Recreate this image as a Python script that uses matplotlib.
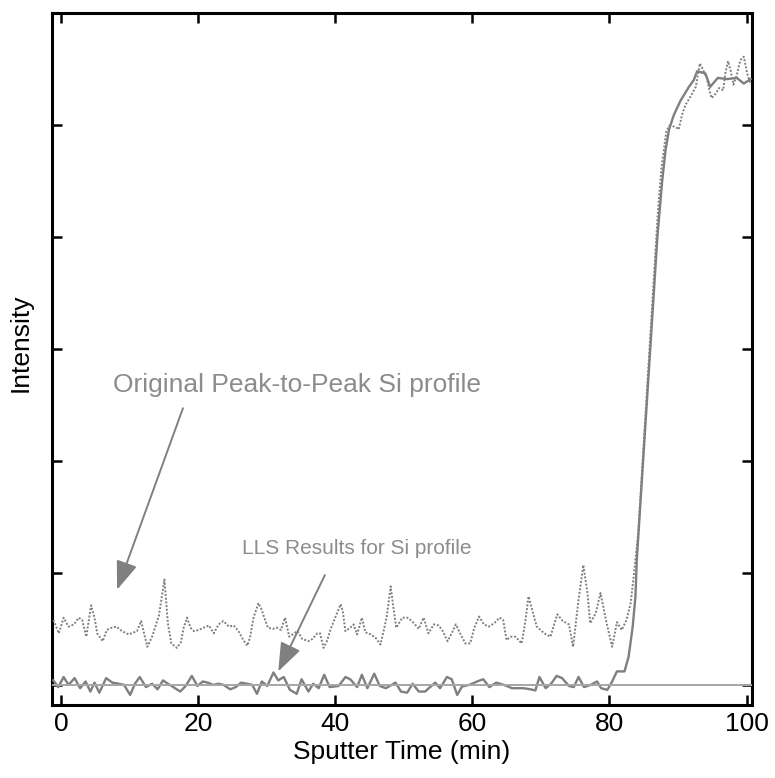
import numpy as np
import matplotlib
matplotlib.use("Agg")
import matplotlib.pyplot as plt

plt.rcParams['font.family'] = ['Liberation Sans', 'DejaVu Sans']

# Original peak-to-peak Si profile (dotted)
t_orig = [-1.1, -0.3, 0.4, 1.1, 1.9, 2.6, 3.1, 3.7, 4.4, 4.9, 5.3, 6.1, 6.7, 7.4, 8.1, 8.9,
          9.9, 11.1, 11.7, 12.6, 13.3, 14.3, 15.1, 15.6, 16.1, 16.9, 17.5, 17.9, 18.4, 18.9,
          19.4, 20.1, 20.8, 21.6, 22.3, 23.0, 23.7, 24.5, 25.2, 25.9, 26.6, 27.2, 27.6, 28.1,
          28.8, 29.3, 29.6, 30.2, 30.9, 31.5, 32.1, 32.7, 33.3, 34.5, 35.2, 36.1, 36.7, 37.4,
          37.8, 38.3, 38.8, 39.3, 40.0, 40.8, 41.1, 41.5, 42.2, 42.7, 43.2, 43.9, 44.4, 45.2,
          45.9, 46.6, 47.1, 47.5, 48.1, 48.5, 48.9, 49.8, 50.5, 51.2, 52.2, 52.9, 53.6, 54.4,
          55.1, 55.6, 56.4, 57.0, 57.6, 58.3, 59.0, 59.7, 60.3, 61.0, 61.7, 62.4, 63.2, 64.0,
          64.5, 65.0, 65.6, 66.3, 67.2, 67.7, 68.2, 68.6, 69.4, 70.5, 71.4, 72.4, 73.2, 74.1,
          74.7, 75.5, 76.2, 76.8, 77.2, 78.0, 78.7, 79.6, 80.4, 81.1, 81.8, 82.5, 83.1, 83.6,
          84.2, 84.8, 85.4, 86.0, 86.6, 87.1, 87.6, 88.3, 88.7, 89.2, 89.7, 90.1, 90.6, 91.1,
          91.8, 92.6, 93.2, 93.6, 94.2, 94.6, 94.9, 95.5, 96.0, 96.6, 96.9, 97.3, 97.7, 98.1,
          98.6, 99.1, 99.6, 100.1, 100.6]
si_orig = [0.58, 0.46, 0.60, 0.52, 0.54, 0.60, 0.58, 0.43, 0.71, 0.60, 0.46, 0.39, 0.49, 0.51, 0.52, 0.48,
           0.45, 0.48, 0.57, 0.34, 0.43, 0.62, 0.94, 0.55, 0.37, 0.33, 0.38, 0.51, 0.60, 0.51,
           0.48, 0.49, 0.51, 0.53, 0.46, 0.54, 0.57, 0.52, 0.53, 0.48, 0.40, 0.35, 0.43, 0.60,
           0.73, 0.67, 0.61, 0.51, 0.50, 0.51, 0.49, 0.60, 0.43, 0.48, 0.41, 0.39, 0.41, 0.46,
           0.46, 0.33, 0.39, 0.49, 0.60, 0.72, 0.66, 0.48, 0.51, 0.54, 0.45, 0.60, 0.47, 0.45,
           0.42, 0.36, 0.49, 0.60, 0.88, 0.69, 0.51, 0.60, 0.60, 0.57, 0.50, 0.60, 0.46, 0.54,
           0.53, 0.49, 0.39, 0.46, 0.54, 0.45, 0.37, 0.37, 0.51, 0.61, 0.54, 0.52, 0.55, 0.60,
           0.58, 0.40, 0.43, 0.43, 0.37, 0.55, 0.79, 0.70, 0.52, 0.46, 0.43, 0.63, 0.57, 0.54,
           0.34, 0.76, 1.07, 0.82, 0.55, 0.64, 0.82, 0.55, 0.34, 0.56, 0.49, 0.58, 0.73, 1.00,
           1.35, 1.95, 2.55, 3.15, 3.75, 4.25, 4.62, 4.94, 4.99, 4.99, 4.98, 4.96, 5.09, 5.18,
           5.25, 5.34, 5.55, 5.50, 5.42, 5.31, 5.24, 5.28, 5.33, 5.31, 5.46, 5.57, 5.48, 5.36,
           5.45, 5.58, 5.61, 5.46, 5.36]

# LLS result for the Si profile (solid)
t_lls = [-1.1, -0.4, 0.4, 1.1, 2.0, 2.8, 3.6, 4.3, 4.9, 5.6, 6.6, 7.5, 8.4, 9.2, 10.1, 10.8,
         11.5, 12.4, 13.3, 14.1, 14.9, 15.6, 16.4, 17.4, 18.2, 19.1, 19.9, 20.7, 21.4, 22.2,
         23.0, 23.7, 24.7, 25.5, 26.3, 27.1, 27.9, 28.6, 29.3, 30.1, 31.0, 31.7, 32.5, 33.4,
         34.4, 35.1, 36.1, 36.8, 37.6, 38.4, 39.2, 40.5, 41.5, 42.2, 43.2, 43.9, 44.7, 45.7,
         46.5, 47.4, 48.8, 49.6, 50.5, 51.3, 52.2, 53.1, 54.6, 55.3, 56.3, 57.0, 57.8, 58.5,
         59.6, 60.7, 61.6, 62.5, 63.5, 64.6, 65.8, 67.5, 68.5, 69.2, 69.8, 70.7, 71.5, 72.3,
         73.1, 74.1, 74.8, 75.5, 76.3, 77.3, 78.2, 78.8, 79.7, 80.4, 81.1, 82.2, 82.8, 83.4,
         83.8, 84.0, 85.0, 86.0, 87.0, 87.7, 88.2, 88.7, 89.4, 90.4, 91.6, 92.3, 92.8, 94.0,
         94.7, 95.8, 97.2, 98.6, 99.6, 100.6]
si_lls = [0.04, -0.02, 0.07, 0.00, 0.06, -0.03, 0.03, -0.06, 0.02, -0.07, 0.06, 0.02, 0.01, 0.00, -0.09, 0.01,
          0.07, -0.02, 0.01, -0.04, 0.04, 0.01, -0.02, -0.06, -0.01, 0.08, -0.01, 0.03, 0.02, 0.00,
          0.01, 0.00, -0.04, -0.02, 0.02, 0.01, 0.00, -0.08, 0.03, -0.01, 0.11, 0.04, 0.07, -0.045,
          -0.08, 0.05, -0.06, 0.01, -0.03, 0.09, -0.02, -0.01, 0.07, 0.05, -0.02, 0.09, -0.03, 0.10,
          -0.01, -0.03, 0.02, -0.06, -0.07, 0.01, -0.06, -0.06, 0.02, -0.03, 0.07, 0.05, -0.09, -0.015,
          0.00, 0.03, 0.05, -0.02, 0.02, 0.00, -0.03, -0.03, -0.04, -0.05, 0.07, -0.03, 0.01, 0.08,
          0.06, -0.01, -0.02, 0.07, -0.02, 0.00, 0.03, -0.03, -0.045, 0.03, 0.12, 0.12, 0.25, 0.52,
          0.79, 1.12, 2.08, 3.04, 4.00, 4.50, 4.78, 4.96, 5.09, 5.22, 5.34, 5.40, 5.48, 5.46,
          5.34, 5.42, 5.41, 5.42, 5.37, 5.41]

x_ticks = [0, 20, 40, 60, 80, 100]
y_ticks = [0, 1, 2, 3, 4, 5, 6]

fig = plt.figure(figsize=(7.75, 7.78), dpi=100)
ax = fig.add_axes([52 / 775, 1 - 705 / 778, 700 / 775, 692 / 778])

ax.plot(t_lls, si_lls, color='#7f7f7f', lw=1.7, zorder=3)
ax.plot(t_orig, si_orig, color='#7f7f7f', lw=1.4, linestyle=(0, (1, 0.9)), zorder=3)
ax.axhline(0, color='#a6a6a6', lw=1.4, zorder=4)

ax.set_xlim(-1.3, 100.8)
ax.set_ylim(-0.18, 6.0)
ax.set_xticks(x_ticks)
ax.set_yticks(y_ticks)
ax.set_yticklabels([])
ax.tick_params(direction='in', length=7, width=1.8, top=True, right=True,
               labelsize=19, pad=5)
for s in ax.spines.values():
    s.set_linewidth(2.2)

ax.set_xlabel('Sputter Time (min)', fontsize=19, labelpad=3)
ax.set_ylabel('Intensity', fontsize=19)
ax.yaxis.set_label_coords(-0.027, 0.523)

arrow = dict(arrowstyle='-|>,head_length=0.8,head_width=0.3', color='#808080',
             lw=1.4, mutation_scale=22, shrinkA=0, shrinkB=0)
ax.annotate('', xy=(8.2, 0.85), xytext=(17.8, 2.47), arrowprops=arrow)
ax.text(34.5, 2.68, 'Original Peak-to-Peak Si profile', fontsize=19,
        color='#8c8c8c', ha='center', va='center')
ax.annotate('', xy=(31.7, 0.12), xytext=(38.5, 0.98), arrowprops=arrow)
ax.text(43.2, 1.22, 'LLS Results for Si profile', fontsize=15,
        color='#8c8c8c', ha='center', va='center')

fig.savefig('out.png', dpi=100)
